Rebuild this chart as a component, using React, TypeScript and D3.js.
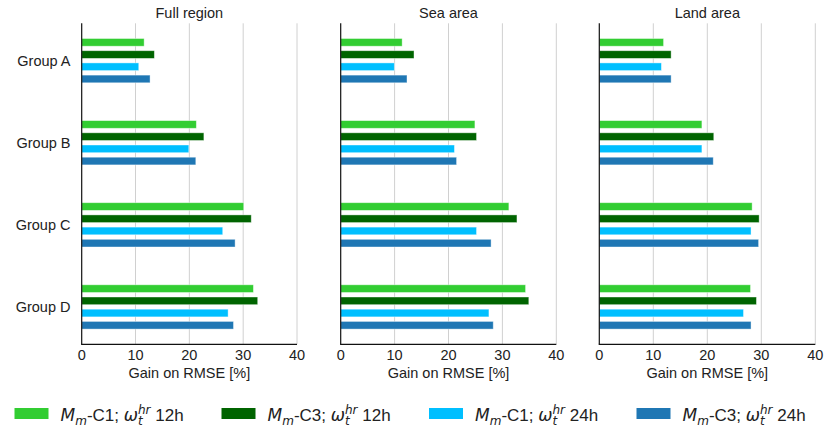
import React, { useEffect, useRef } from "react";
import * as d3 from "d3";

const panels = ["Full region", "Sea area", "Land area"];
const groups = ["Group A", "Group B", "Group C", "Group D"];
const seriesKeys = ["C1_12", "C3_12", "C1_24", "C3_24"];
const seriesColors = ["#32cd32", "#006400", "#00bfff", "#1f77b4"];
const seriesModel = ["C1", "C3", "C1", "C3"];
const seriesHorizon = ["12h", "12h", "24h", "24h"];
const xTicks = [0, 10, 20, 30, 40];

// values per panel, per series, per group (A..D)
const fullC1_12 = [11.6, 21.3, 30.1, 31.9];
const fullC3_12 = [13.5, 22.7, 31.5, 32.7];
const fullC1_24 = [10.6, 19.9, 26.2, 27.2];
const fullC3_24 = [12.7, 21.2, 28.5, 28.2];

const seaC1_12 = [11.4, 24.9, 31.2, 34.3];
const seaC3_12 = [13.6, 25.2, 32.7, 34.9];
const seaC1_24 = [9.95, 21.1, 25.2, 27.5];
const seaC3_24 = [12.3, 21.5, 27.9, 28.3];

const landC1_12 = [11.9, 19.0, 28.3, 28.0];
const landC3_12 = [13.3, 21.2, 29.6, 29.1];
const landC1_24 = [11.5, 19.0, 28.1, 26.7];
const landC3_24 = [13.3, 21.1, 29.5, 28.1];

const panelData = [
  [fullC1_12, fullC3_12, fullC1_24, fullC3_24],
  [seaC1_12, seaC3_12, seaC1_24, seaC3_24],
  [landC1_12, landC3_12, landC1_24, landC3_24],
];

const W = 831;
const H = 439;
const FONT = "'Liberation Sans', Arial, sans-serif";
const MATH = "'DejaVu Sans', sans-serif";
const TXT = "#222";
const FS = 14.5;

export default function App() {
  const ref = useRef<SVGSVGElement>(null);

  useEffect(() => {
    const svg = d3.select(ref.current);
    svg.selectAll("*").remove();

    const top = 23.3;
    const bottom = 344.3;
    const panelX: [number, number][] = [
      [81.7, 297],
      [340.7, 556.3],
      [599.3, 815.3],
    ];

    const y = d3.scalePoint<string>().domain(groups).range([top, bottom]).padding(0.455);
    const inner = d3
      .scaleBand<string>()
      .domain(seriesKeys)
      .range([-24.4, 24.4])
      .paddingInner(0.37)
      .paddingOuter(0.185);

    panels.forEach((title, pi) => {
      const x = d3.scaleLinear().domain([0, 40]).range(panelX[pi]);
      const g = svg.append("g");

      // grid
      g.selectAll("line.grid")
        .data(xTicks.slice(1))
        .join("line")
        .attr("x1", (d) => x(d))
        .attr("x2", (d) => x(d))
        .attr("y1", top)
        .attr("y2", bottom)
        .attr("stroke", "#d0d0d0")
        .attr("stroke-width", 1);

      // bars
      panelData[pi].forEach((vals, si) => {
        g.selectAll(`rect.s${si}`)
          .data(vals)
          .join("rect")
          .attr("x", x(0))
          .attr("y", (_, gi) => (y(groups[gi]) as number) + (inner(seriesKeys[si]) as number))
          .attr("width", (d) => x(d) - x(0))
          .attr("height", inner.bandwidth())
          .attr("fill", seriesColors[si])
          .attr("stroke", "#ffffff")
          .attr("stroke-opacity", 0.5)
          .attr("stroke-width", 0.8);
      });

      // axes lines
      g.append("line")
        .attr("x1", x(0))
        .attr("x2", x(0))
        .attr("y1", top)
        .attr("y2", bottom)
        .attr("stroke", "#111")
        .attr("stroke-width", 1.2);
      g.append("line")
        .attr("x1", x(0) - 0.6)
        .attr("x2", x(40))
        .attr("y1", bottom)
        .attr("y2", bottom)
        .attr("stroke", "#111")
        .attr("stroke-width", 1.2);

      // tick labels
      g.selectAll("text.tick")
        .data(xTicks)
        .join("text")
        .attr("x", (d) => x(d))
        .attr("y", 359.5)
        .attr("text-anchor", "middle")
        .attr("font-family", FONT)
        .attr("font-size", FS)
        .attr("fill", TXT)
        .text((d) => String(d));

      g.append("text")
        .attr("x", (panelX[pi][0] + panelX[pi][1]) / 2)
        .attr("y", 377.5)
        .attr("text-anchor", "middle")
        .attr("font-family", FONT)
        .attr("font-size", FS)
        .attr("fill", TXT)
        .text("Gain on RMSE [%]");

      g.append("text")
        .attr("x", (panelX[pi][0] + panelX[pi][1]) / 2)
        .attr("y", 17.5)
        .attr("text-anchor", "middle")
        .attr("font-family", FONT)
        .attr("font-size", FS)
        .attr("fill", TXT)
        .text(title);

      if (pi === 0) {
        g.selectAll("text.grp")
          .data(groups)
          .join("text")
          .attr("x", 70.5)
          .attr("y", (d) => (y(d) as number) + 5)
          .attr("text-anchor", "end")
          .attr("font-family", FONT)
          .attr("font-size", FS)
          .attr("fill", TXT)
          .text((d) => d);
      }
    });

    // legend
    const legX = [14.5, 221.5, 429, 636.5];
    const fs = 17;
    const sfs = 12;
    seriesKeys.forEach((k, i) => {
      const lg = svg.append("g").attr("transform", `translate(${legX[i]},0)`);
      lg.append("rect")
        .attr("x", 0)
        .attr("y", 408)
        .attr("width", 34)
        .attr("height", 11)
        .attr("fill", seriesColors[i]);
      const t = lg
        .append("text")
        .attr("x", 46)
        .attr("y", 421)
        .attr("font-family", FONT)
        .attr("font-size", fs)
        .attr("fill", TXT)
        .style("white-space", "pre");
      const span = (
        txt: string,
        opts: { math?: boolean; size?: number; dy?: number; dx?: number }
      ) => {
        const s = t
          .append("tspan")
          .attr("font-family", opts.math ? MATH : FONT)
          .attr("font-style", opts.math ? "italic" : "normal")
          .attr("font-size", opts.size || fs)
          .text(txt);
        if (opts.dy) s.attr("dy", opts.dy);
        if (opts.dx) s.attr("dx", opts.dx);
        return (s.node() as SVGTSpanElement).getComputedTextLength();
      };
      span("M", { math: true });
      span("m", { math: true, size: sfs, dy: 4 });
      span("-C" + seriesModel[i].slice(1) + "; ", { dy: -4 });
      span("ω", { math: true });
      const wt = span("t", { math: true, size: sfs, dy: 4 });
      const whr = span("hr", { math: true, size: sfs, dy: -11, dx: -wt });
      span(" " + seriesHorizon[i], { dy: 7, dx: Math.max(0, wt - whr) });
    });
  }, []);

  return (
    <div style={{ position: "absolute", left: 0, top: 0 }}>
      <svg ref={ref} width={W} height={H} style={{ display: "block", background: "#fff" }} />
    </div>
  );
}
